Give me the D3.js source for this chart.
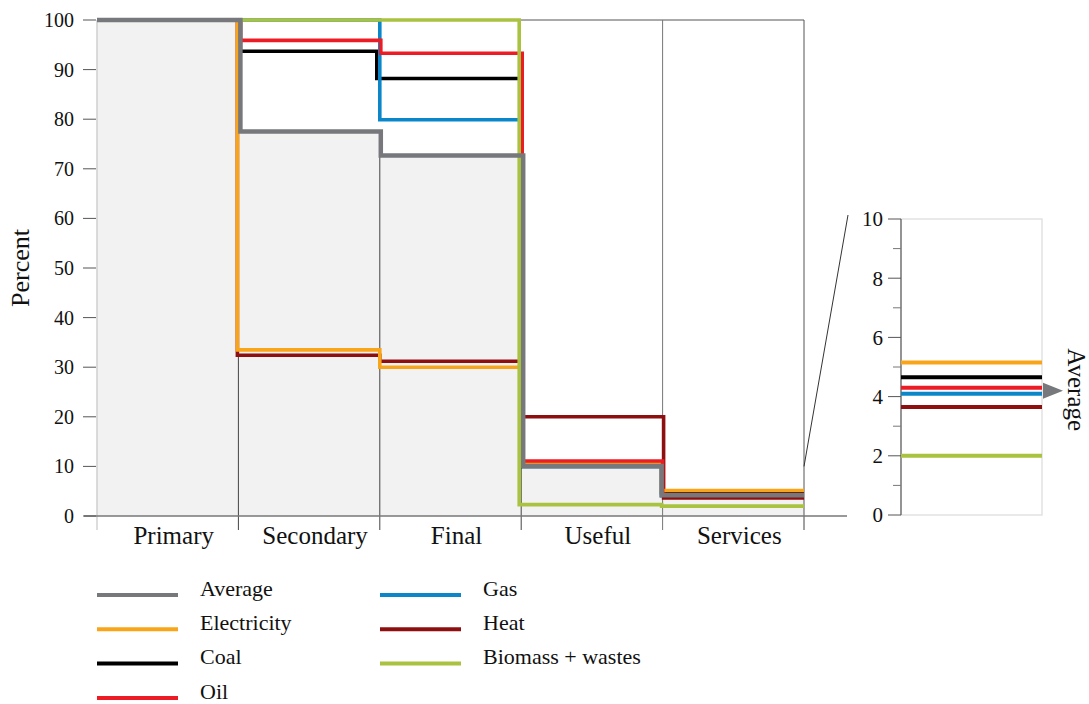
<!DOCTYPE html>
<html lang="en">
<head>
<meta charset="UTF-8">
<title>Energy efficiency chain</title>
<script src="https://d3js.org/d3.v7.min.js"></script>
<style>
  body { margin: 0; background: #fff; }
  text { font-family: "Liberation Serif", "DejaVu Serif", serif; fill: #111; }
</style>
</head>
<body>
<div id="viz"></div>
<script>
// stages of the chain
var stages = ["Primary", "Secondary", "Final", "Useful", "Services"];

// percent remaining at each stage
var average     = [100, 77.5, 72.7, 10.1, 4.2];
var electricity = [100, 33.5, 30.0, 10.5, 5.15];
var coal        = [100, 93.7, 88.2, 10.0, 4.65];
var oil         = [100, 95.9, 93.3, 11.1, 4.3];
var gas         = [100, 100, 79.9, 10.0, 4.1];
var heat        = [100, 32.4, 31.2, 20.0, 3.65];
var biomass     = [100, 100, 100, 2.3, 2.0];

var seriesNames  = ["Average", "Electricity", "Coal", "Oil", "Gas", "Heat", "Biomass + wastes"];
var seriesColors = ["#77787b", "#f9a51a", "#000000", "#ed1c24", "#0b87c9", "#8e0f10", "#a9c23f"];

var yTicks = [0, 10, 20, 30, 40, 50, 60, 70, 80, 90, 100];
var insetTicks = [0, 2, 4, 6, 8, 10];
var insetMinor = [1, 3, 5, 7, 9];

var W = 1089, H = 704;
var svg = d3.select("#viz").append("svg").attr("width", W).attr("height", H);

var series = seriesNames.map(function(n, i) {
    return { name: n, color: seriesColors[i],
             values: [average, electricity, coal, oil, gas, heat, biomass][i] };
});

//__ main scales
var x = d3.scaleLinear().domain([0, stages.length]).range([97, 804]);
var y = d3.scaleLinear().domain([0, 100]).range([516, 20]);

// px nudges of each step (boundaries 1..4) so the steps don't sit on one another
var nudge = {
    "Average":          [2, 1, 2, -1],
    "Electricity":      [-1, 0, -1, -1],
    "Coal":             [2, -3, 1, -1],
    "Oil":              [2, 1, 1, 0],
    "Gas":              [2, 0, 1, -1],
    "Heat":             [-1, 0, 1, 1],
    "Biomass + wastes": [2, 0, -2, -1]
};

function stepPts(vals, dx) {
    var pts = vals.map(function(v, i) { return [i, v]; });
    pts.push([vals.length, vals[vals.length - 1]]);
    return pts.map(function(p, i) {
        var px = x(p[0]);
        if (i > 0 && i < vals.length) px += dx[i - 1];
        return [px, y(p[1])];
    });
}

var stepLine = d3.line().curve(d3.curveStepAfter);

// grey area under the average
var area = d3.area()
    .x(function(d) { return x(d[0]); })
    .y0(y(0))
    .y1(function(d) { return y(d[1]); })
    .curve(d3.curveStepAfter);
var areaPts = average.map(function(v, i) { return [i, v]; });
areaPts.push([average.length, average[average.length - 1]]);
svg.append("path").attr("d", area(areaPts)).attr("fill", "#f2f2f2");
svg.append("line").attr("x1", x(0)).attr("x2", x(0)).attr("y1", y(100)).attr("y2", y(0))
    .attr("stroke", "#cfcfcf").attr("stroke-width", 1.5);

// frame on the right part
svg.append("path")
    .attr("d", "M" + x(0) + "," + y(100) + "H" + x(5) + "V" + y(0))
    .attr("fill", "none").attr("stroke", "#555").attr("stroke-width", 1);

// stage dividers
d3.range(1, stages.length).forEach(function(i) {
    var top = i === 4 ? y(100) : y(average[i]);
    svg.append("line").attr("x1", x(i)).attr("x2", x(i)).attr("y1", top).attr("y2", y(0) + 14)
        .attr("stroke", i === 4 ? "#777" : "#444").attr("stroke-width", 1);
});
[0, 5].forEach(function(i) {
    svg.append("line").attr("x1", x(i)).attr("x2", x(i)).attr("y1", y(0)).attr("y2", y(0) + 14)
        .attr("stroke", i === 0 ? "#bbb" : "#444").attr("stroke-width", 1);
});

// bottom axis line, runs into the inset
svg.append("line").attr("x1", 84).attr("x2", 847).attr("y1", y(0)).attr("y2", y(0))
    .attr("stroke", "#777").attr("stroke-width", 1.5);

// y axis ticks
var yAxis = svg.append("g");
yTicks.forEach(function(t) {
    yAxis.append("line").attr("x1", 83).attr("x2", 96).attr("y1", y(t)).attr("y2", y(t))
        .attr("stroke", "#555").attr("stroke-width", 1);
    yAxis.append("text").attr("x", 74).attr("y", y(t)).attr("dy", "0.35em")
        .attr("text-anchor", "end").style("font-size", "20px").text(t);
});
svg.append("text").attr("transform", "translate(29," + y(50) + ") rotate(-90)")
    .attr("text-anchor", "middle").style("font-size", "26px").text("Percent");

// stage labels
stages.forEach(function(s, i) {
    svg.append("text").attr("x", (x(i) + x(i + 1)) / 2 + 6).attr("y", 544)
        .attr("text-anchor", "middle").style("font-size", "25px").text(s);
});

// step lines (average drawn last, on top)
var drawOrder = ["Coal", "Gas", "Heat", "Electricity", "Oil", "Biomass + wastes", "Average"];
drawOrder.forEach(function(n) {
    var s = series.filter(function(d) { return d.name === n; })[0];
    svg.append("path")
        .attr("d", stepLine(stepPts(s.values, nudge[n])))
        .attr("fill", "none")
        .attr("stroke", s.color)
        .attr("stroke-width", n === "Average" ? 4.5 : 3.6);
});

//__ inset (zoom of the services stage)
var xi = d3.scaleLinear().domain([0, 1]).range([901, 1042]);
var yi = d3.scaleLinear().domain([0, 10]).range([515, 219]);

svg.append("rect").attr("x", xi(0)).attr("y", yi(10)).attr("width", xi(1) - xi(0)).attr("height", yi(0) - yi(10))
    .attr("fill", "none").attr("stroke", "#e2e2e2").attr("stroke-width", 1.5);

// zoom connector
svg.append("line").attr("x1", x(5)).attr("y1", y(10)).attr("x2", 848).attr("y2", yi(10) - 4)
    .attr("stroke", "#333").attr("stroke-width", 1);

svg.append("line").attr("x1", xi(0)).attr("x2", xi(0)).attr("y1", yi(10)).attr("y2", yi(0))
    .attr("stroke", "#777").attr("stroke-width", 1.5);
insetTicks.forEach(function(t) {
    svg.append("line").attr("x1", xi(0) - 13).attr("x2", xi(0)).attr("y1", yi(t)).attr("y2", yi(t))
        .attr("stroke", "#555").attr("stroke-width", 1);
    svg.append("text").attr("x", xi(0) - 18).attr("y", yi(t)).attr("dy", "0.35em")
        .attr("text-anchor", "end").style("font-size", "21px").text(t);
});
insetMinor.forEach(function(t) {
    svg.append("line").attr("x1", xi(0) - 8).attr("x2", xi(0)).attr("y1", yi(t)).attr("y2", yi(t))
        .attr("stroke", "#777").attr("stroke-width", 1);
});

var last = stages.length - 1;
drawOrder.filter(function(n) { return n !== "Average"; }).forEach(function(n) {
    var s = series.filter(function(d) { return d.name === n; })[0];
    svg.append("line").attr("x1", xi(0)).attr("x2", xi(1))
        .attr("y1", yi(s.values[last])).attr("y2", yi(s.values[last]))
        .attr("stroke", s.color).attr("stroke-width", 4);
});

// average arrow
var ay = yi(average[last]);
svg.append("path")
    .attr("d", "M" + (xi(1) + 1) + "," + (ay - 8) + "L" + (xi(1) + 21) + "," + ay + "L" + (xi(1) + 1) + "," + (ay + 8) + "Z")
    .attr("fill", "#77787b");
svg.append("text").attr("transform", "translate(1068," + (ay - 1) + ") rotate(90)")
    .attr("text-anchor", "middle").style("font-size", "25px").text("Average");

//__ legend
var legend = svg.append("g");
series.forEach(function(s, i) {
    var col = i < 4 ? 0 : 1;
    var row = i < 4 ? i : i - 4;
    var lx = col === 0 ? 97 : 380;
    var ly = 595 + row * 34.3;
    legend.append("line").attr("x1", lx).attr("x2", lx + 81).attr("y1", ly).attr("y2", ly)
        .attr("stroke", s.color).attr("stroke-width", 4);
    legend.append("text").attr("x", lx + 103).attr("y", ly - 7).attr("dy", "0.35em")
        .style("font-size", "22px").text(s.name);
});
</script>
</body>
</html>
